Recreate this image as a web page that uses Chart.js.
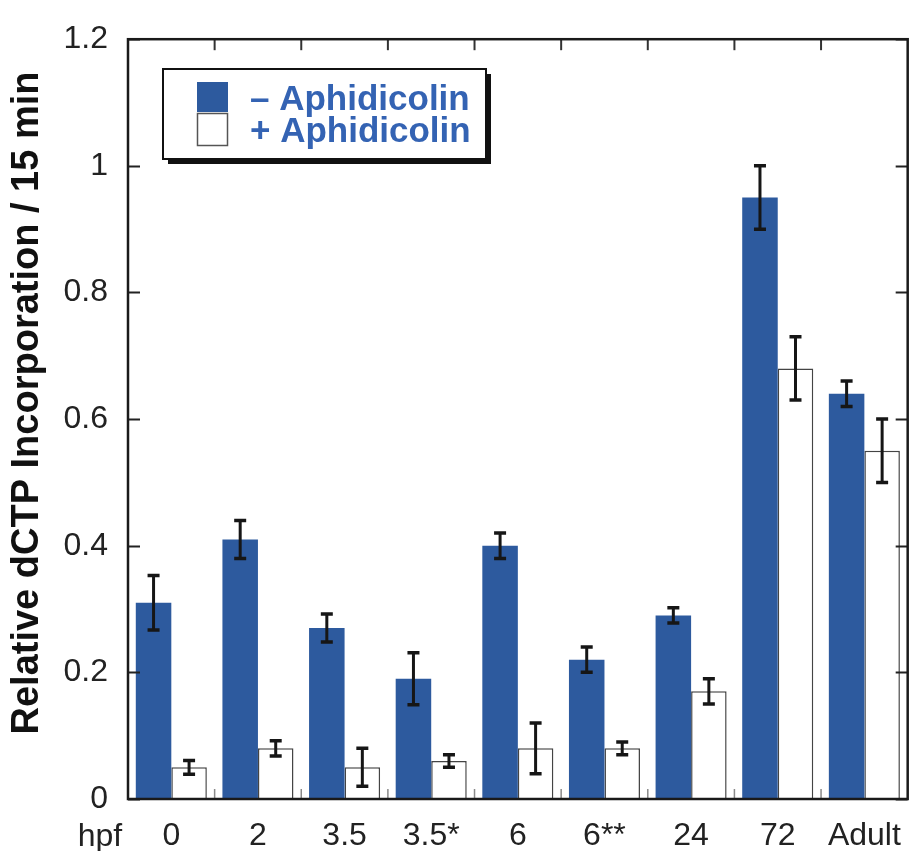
<!DOCTYPE html>
<html>
<head>
<meta charset="utf-8">
<script src="https://cdn.jsdelivr.net/npm/chart.js@4.4.1/dist/chart.umd.min.js"></script>
<style>
  html, body { margin: 0; padding: 0; background: #ffffff; }
  #wrap { width: 919px; height: 851px; position: relative; }
</style>
</head>
<body>
<div id="wrap"><canvas id="chart" width="919" height="851"></canvas></div>
<script>
// Stages (hours post fertilization) and measured incorporation
const categories = ['0', '2', '3.5', '3.5*', '6', '6**', '24', '72', 'Adult'];
const minusAphidicolin = [0.31, 0.41, 0.27, 0.19, 0.40, 0.22, 0.29, 0.95, 0.64];
const minusAphidicolinErr = [0.043, 0.030, 0.022, 0.041, 0.020, 0.020, 0.012, 0.050, 0.020];
const plusAphidicolin = [0.05, 0.08, 0.05, 0.06, 0.08, 0.08, 0.17, 0.68, 0.55];
const plusAphidicolinErr = [0.011, 0.012, 0.030, 0.010, 0.040, 0.010, 0.020, 0.050, 0.050];
const yTickLabels = ['0', '0.2', '0.4', '0.6', '0.8', '1', '1.2'];
const seriesNames = ['\u2013 Aphidicolin', '+ Aphidicolin'];
const xAxisPrefix = 'hpf';
const yAxisTitle = 'Relative dCTP Incorporation / 15 min';

const BLUE = '#2d5a9e';
const FONT = '"Liberation Sans", Arial, Helvetica, sans-serif';

// Error bars: vertical line with flat caps, for every bar of both series
const errorBars = {
  id: 'errorBars',
  afterDatasetsDraw(chart) {
    const ctx = chart.ctx;
    const y = chart.scales.y;
    chart.data.datasets.forEach((ds, di) => {
      const meta = chart.getDatasetMeta(di);
      meta.data.forEach((bar, i) => {
        const v = ds.data[i], e = ds.errors[i];
        const yt = y.getPixelForValue(v + e);
        const yb = y.getPixelForValue(v - e);
        const x = bar.x;
        ctx.save();
        ctx.strokeStyle = '#161616';
        ctx.lineWidth = 3;
        ctx.beginPath();
        ctx.moveTo(x, yt); ctx.lineTo(x, yb);
        ctx.stroke();
        ctx.lineWidth = 3.5;
        ctx.beginPath();
        ctx.moveTo(x - 6, yt); ctx.lineTo(x + 6, yt);
        ctx.moveTo(x - 6, yb); ctx.lineTo(x + 6, yb);
        ctx.stroke();
        ctx.restore();
      });
    });
  }
};

// Boxed frame with inward ticks on all four sides, legend, axis title and the "hpf" prefix
const frameAndLegend = {
  id: 'frameAndLegend',
  afterDraw(chart) {
    const ctx = chart.ctx;
    const a = chart.chartArea;
    const x = chart.scales.x, y = chart.scales.y;
    ctx.save();

    // y ticks on left and right
    ctx.strokeStyle = '#222';
    ctx.lineWidth = 2;
    y.ticks.forEach(t => {
      const py = Math.round(y.getPixelForValue(t.value)) + 0.5;
      ctx.beginPath();
      ctx.moveTo(a.left, py); ctx.lineTo(a.left + 12, py);
      ctx.moveTo(a.right, py); ctx.lineTo(a.right - 12, py);
      ctx.stroke();
    });

    // category boundary ticks on top and bottom
    for (let i = 0; i < categories.length - 1; i++) {
      const bx = (x.getPixelForTick(i) + x.getPixelForTick(i + 1)) / 2;
      ctx.strokeStyle = '#333';
      ctx.lineWidth = 2;
      ctx.beginPath();
      ctx.moveTo(bx, a.top); ctx.lineTo(bx, a.top + 11);
      ctx.stroke();
      ctx.strokeStyle = '#8a8a8a';
      ctx.lineWidth = 1.5;
      ctx.beginPath();
      ctx.moveTo(bx, a.bottom); ctx.lineTo(bx, a.bottom - 10);
      ctx.stroke();
    }

    // frame
    ctx.strokeStyle = '#1a1a1a';
    ctx.lineWidth = 2.5;
    ctx.strokeRect(a.left, a.top, a.right - a.left, a.bottom - a.top);

    // legend box with drop shadow
    const lx = 163, ly = 69, lw = 323, lh = 90;
    ctx.fillStyle = '#111';
    ctx.fillRect(lx + 5, ly + 5, lw, lh);
    ctx.fillStyle = '#fff';
    ctx.fillRect(lx, ly, lw, lh);
    ctx.strokeStyle = '#111';
    ctx.lineWidth = 2;
    ctx.strokeRect(lx, ly, lw, lh);

    // swatches taken from the datasets
    const ds = chart.data.datasets;
    ctx.fillStyle = ds[0].backgroundColor;
    ctx.fillRect(197, 82, 31, 30);
    ctx.fillStyle = ds[1].backgroundColor;
    ctx.fillRect(197, 113, 31, 32);
    ctx.strokeStyle = '#555';
    ctx.lineWidth = 1.5;
    ctx.strokeRect(197.5, 113.5, 30, 32);

    ctx.fillStyle = '#3463b3';
    ctx.font = 'bold 35px ' + FONT;
    ctx.textAlign = 'left';
    ctx.textBaseline = 'alphabetic';
    ctx.fillText(ds[0].label, 250, 110);
    ctx.fillText(ds[1].label, 250, 142);

    // "hpf" in front of the category labels
    ctx.fillStyle = '#222';
    ctx.font = '32px ' + FONT;
    ctx.textAlign = 'center';
    ctx.textBaseline = 'alphabetic';
    ctx.fillText(xAxisPrefix, 100, 846);

    // rotated y axis title
    ctx.translate(28, 403);
    ctx.rotate(-Math.PI / 2);
    ctx.fillStyle = '#111';
    ctx.font = 'bold 38px ' + FONT;
    ctx.textAlign = 'center';
    ctx.textBaseline = 'middle';
    ctx.fillText(yAxisTitle, 0, 0);

    ctx.restore();
  }
};

new Chart(document.getElementById('chart'), {
  type: 'bar',
  data: {
    labels: categories,
    datasets: [
      {
        label: seriesNames[0],
        data: minusAphidicolin,
        errors: minusAphidicolinErr,
        backgroundColor: BLUE,
        borderWidth: 0,
        barPercentage: 1.0,
        categoryPercentage: 0.82
      },
      {
        label: seriesNames[1],
        data: plusAphidicolin,
        errors: plusAphidicolinErr,
        backgroundColor: '#ffffff',
        borderColor: '#444',
        borderWidth: 1.5,
        barPercentage: 1.0,
        categoryPercentage: 0.82
      }
    ]
  },
  options: {
    responsive: false,
    animation: false,
    layout: { padding: { top: 29, right: 3, left: 0, bottom: 0 } },
    plugins: {
      legend: { display: false },
      tooltip: { enabled: false }
    },
    scales: {
      x: {
        grid: { display: false, drawTicks: false },
        border: { display: false },
        ticks: {
          color: '#222',
          font: { family: FONT, size: 32 },
          padding: 18,
          maxRotation: 0,
          autoSkip: false
        },
        afterFit(scale) { scale.height = 52; }
      },
      y: {
        min: 0,
        max: 1.2,
        grid: { display: false, drawTicks: false },
        border: { display: false },
        ticks: {
          stepSize: 0.2,
          color: '#222',
          font: { family: FONT, size: 32 },
          padding: 20,
          callback: (v, i) => yTickLabels[i]
        },
        afterFit(scale) { scale.width = 128; }
      }
    }
  },
  plugins: [errorBars, frameAndLegend]
});
</script>
</body>
</html>
